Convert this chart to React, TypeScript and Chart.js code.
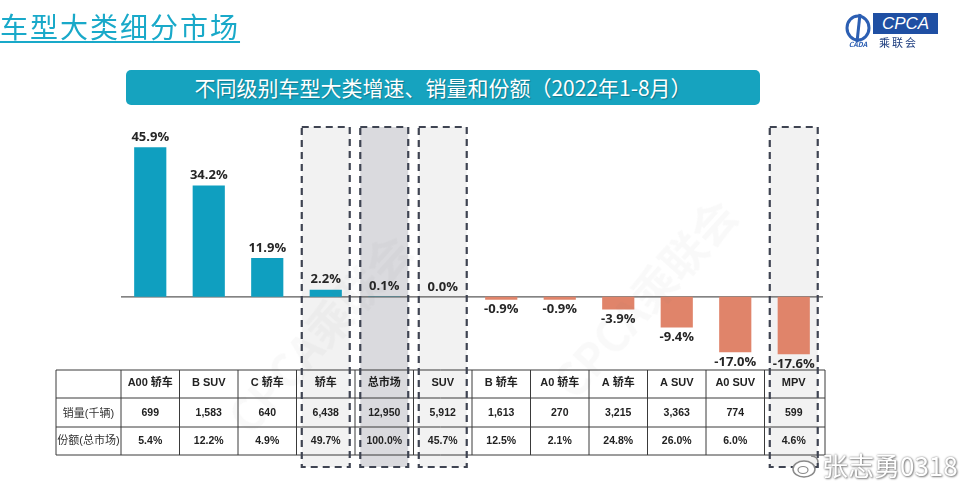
import React, { useRef, useEffect } from 'react';
import { Chart, registerables, Plugin } from 'chart.js';

Chart.register(...registerables);

// growth by segment, Jan-Aug 2022
const categories = ['A00 轿车', 'B SUV', 'C 轿车', '轿车', '总市场', 'SUV', 'B 轿车', 'A0 轿车', 'A 轿车', 'A SUV', 'A0 SUV', 'MPV'];
const growth = [45.9, 34.2, 11.9, 2.2, 0.1, 0.0, -0.9, -0.9, -3.9, -9.4, -17.0, -17.6];
const sales = [699, 1583, 640, 6438, 12950, 5912, 1613, 270, 3215, 3363, 774, 599];
const share = [5.4, 12.2, 4.9, 49.7, 100.0, 45.7, 12.5, 2.1, 24.8, 26.0, 6.0, 4.6];
const rowLabels = ['销量(千辆)', '份额(总市场)'];
const highlighted = [3, 4, 5, 11];
const totalIndex = 4;

const POS = '#0f9fc0';
const NEG = '#e0846a';
const FONT = '"Liberation Sans", "Noto Sans CJK SC", sans-serif';
const rowHeights = [28, 29, 28];

const tableGeom = (chart: Chart) => {
  const { chartArea } = chart;
  const top = chartArea.bottom + 8;
  const left = chartArea.left - 65;
  const ys = [top];
  rowHeights.forEach(h => ys.push(ys[ys.length - 1] + h));
  return { top, left, ys, bottom: ys[ys.length - 1] };
};

const tablePlugin: Plugin<'bar'> = {
  id: 'growthTable',
  beforeDatasetsDraw(chart) {
    const { ctx, chartArea, scales } = chart;
    const x = scales.x;
    const y = scales.y;
    const step = (chartArea.right - chartArea.left) / categories.length;
    const { bottom } = tableGeom(chart);
    const boxTop = chartArea.top - 7;
    const boxBottom = bottom + 12;
    ctx.save();
    highlighted.forEach(i => {
      const cx = x.getPixelForValue(i);
      ctx.fillStyle = i === totalIndex ? '#dadade' : '#f2f2f2';
      ctx.fillRect(cx - step * 0.41, boxTop, step * 0.82, boxBottom - boxTop);
    });
    const y0 = y.getPixelForValue(0);
    ctx.strokeStyle = '#5a5a5a';
    ctx.lineWidth = 1.2;
    ctx.beginPath();
    ctx.moveTo(chartArea.left, y0);
    ctx.lineTo(chartArea.right, y0);
    ctx.stroke();
    ctx.restore();
  },
  afterDatasetsDraw(chart) {
    const { ctx, chartArea, scales } = chart;
    const x = scales.x;
    const step = (chartArea.right - chartArea.left) / categories.length;
    const { left, ys, bottom } = tableGeom(chart);
    const right = chartArea.right + 2;
    ctx.save();

    // table grid
    ctx.strokeStyle = '#3a3a3a';
    ctx.lineWidth = 1;
    ys.forEach(yy => {
      ctx.beginPath();
      ctx.moveTo(left, yy);
      ctx.lineTo(right, yy);
      ctx.stroke();
    });
    const cols = [left, chartArea.left];
    for (let i = 1; i < categories.length; i++) cols.push(chartArea.left + step * i);
    cols.push(right);
    cols.forEach(xx => {
      ctx.beginPath();
      ctx.moveTo(xx, ys[0]);
      ctx.lineTo(xx, bottom);
      ctx.stroke();
    });

    // table text
    ctx.textAlign = 'center';
    ctx.textBaseline = 'middle';
    ctx.fillStyle = '#222';
    const mid = (r: number) => (ys[r] + ys[r + 1]) / 2;
    categories.forEach((c, i) => {
      const cx = x.getPixelForValue(i);
      ctx.font = `bold 11px ${FONT}`;
      ctx.fillText(c, cx, mid(0) - 1);
      ctx.font = `bold 10.5px ${FONT}`;
      ctx.fillText(sales[i].toLocaleString('en-US'), cx, mid(1) + 1);
      ctx.fillText(share[i].toFixed(1) + '%', cx, mid(2));
    });
    ctx.font = `11px ${FONT}`;
    ctx.fillStyle = '#333';
    const lx = (left + chartArea.left) / 2;
    ctx.fillText(rowLabels[0], lx, mid(1) + 1);
    ctx.fillText(rowLabels[1], lx, mid(2));

    // dashed highlight boxes
    const boxTop = chartArea.top - 7;
    const boxBottom = bottom + 12;
    ctx.setLineDash([7, 5]);
    ctx.lineWidth = 2.2;
    ctx.strokeStyle = '#3f4452';
    highlighted.forEach(i => {
      const cx = x.getPixelForValue(i);
      ctx.strokeRect(cx - step * 0.41, boxTop, step * 0.82, boxBottom - boxTop);
    });
    ctx.setLineDash([]);

    // value labels
    ctx.font = 'bold 13px "Open Sans", sans-serif';
    ctx.fillStyle = '#262626';
    const meta = chart.getDatasetMeta(0);
    meta.data.forEach((bar, i) => {
      const v = growth[i];
      const label = v.toFixed(1) + '%';
      if (v >= 0) ctx.fillText(label, bar.x, bar.y - 10);
      else ctx.fillText(label, bar.x, bar.y + 10);
    });
    ctx.restore();
  },
};

const GrowthChart: React.FC = () => {
  const chartRef = useRef<HTMLCanvasElement>(null);
  const chartInstance = useRef<Chart | null>(null);

  useEffect(() => {
    if (!chartRef.current) return;
    if (chartInstance.current) chartInstance.current.destroy();
    const ctx = chartRef.current.getContext('2d');
    if (!ctx) return;

    chartInstance.current = new Chart(ctx, {
      type: 'bar',
      data: {
        labels: categories,
        datasets: [
          {
            label: '增速',
            data: growth,
            backgroundColor: growth.map(v => (v >= 0 ? POS : NEG)),
            barPercentage: 0.55,
            categoryPercentage: 1,
          },
        ],
      },
      options: {
        responsive: true,
        maintainAspectRatio: false,
        animation: false,
        layout: { padding: { left: 121, right: 148, top: 134, bottom: 129 } },
        plugins: {
          legend: { display: false },
          tooltip: { enabled: false },
        },
        scales: {
          x: { display: false },
          y: { display: false, min: -20, max: 50 },
        },
      },
      plugins: [tablePlugin],
    });

    return () => {
      if (chartInstance.current) {
        chartInstance.current.destroy();
        chartInstance.current = null;
      }
    };
  }, []);

  return (
    <div style={{ position: 'absolute', left: 0, top: 0, width: 971, height: 491 }}>
      <canvas ref={chartRef} />
    </div>
  );
};

const Watermark: React.FC<{ left: number; top: number }> = ({ left, top }) => (
  <div
    style={{
      position: 'absolute',
      left,
      top,
      transform: 'rotate(-48deg)',
      fontFamily: '"Noto Sans CJK SC", sans-serif',
      fontWeight: 700,
      fontSize: 44,
      color: 'rgba(110,110,110,0.04)',
      whiteSpace: 'nowrap',
      pointerEvents: 'none',
    }}
  >
    CPCA乘联会
  </div>
);

export default function App() {
  return (
    <div
      style={{
        position: 'fixed',
        left: 0,
        top: 0,
        width: 971,
        height: 491,
        background: '#fff',
        overflow: 'hidden',
        fontFamily: '"Noto Sans CJK SC", sans-serif',
      }}
    >
      <GrowthChart />
      <div
        style={{
          position: 'absolute',
          left: 0,
          top: 8,
          fontSize: 28,
          lineHeight: '36px',
          color: '#19a9c9',
          textDecoration: 'underline',
          textUnderlineOffset: 3,
          letterSpacing: 2,
        }}
      >
        车型大类细分市场
      </div>
      <div style={{ position: 'absolute', left: 843, top: 12, width: 30, height: 36 }}>
        <svg width="30" height="36" viewBox="0 0 30 36">
          <ellipse cx="15" cy="16" rx="11" ry="12" fill="none" stroke="#2c5fb3" strokeWidth="3" />
          <path d="M17 2 L14 30" stroke="#2c5fb3" strokeWidth="3" />
          <text x="15" y="35" fontSize="7" fontStyle="italic" fontWeight="bold" fill="#2c5fb3" textAnchor="middle">CADA</text>
        </svg>
      </div>
      <div
        style={{
          position: 'absolute',
          left: 873,
          top: 13,
          width: 65,
          height: 21,
          background: '#1f4fa3',
          color: '#fff',
          fontFamily: '"Liberation Sans", sans-serif',
          fontStyle: 'italic',
          fontSize: 17,
          lineHeight: '21px',
          textAlign: 'center',
        }}
      >
        CPCA
      </div>
      <div style={{ position: 'absolute', left: 879, top: 34, fontSize: 11, color: '#1f3f80', letterSpacing: 2 }}>
        乘联会
      </div>
      <div
        style={{
          position: 'absolute',
          left: 126,
          top: 70,
          width: 634,
          height: 35,
          background: '#16a3bf',
          borderRadius: 5,
          color: '#fff',
          fontSize: 21,
          lineHeight: '35px',
          textAlign: 'center',
          textShadow: '1px 1px 1px rgba(0,0,0,0.25)',
        }}
      >
        不同级别车型大类增速、销量和份额（2022年1-8月）
      </div>
      <Watermark left={195} top={300} />
      <Watermark left={520} top={265} />
      <div style={{ position: 'absolute', left: 791, top: 452 }}>
        <svg width="30" height="28" viewBox="0 0 30 28">
          <ellipse cx="13" cy="17" rx="11" ry="8" fill="#fff" stroke="#8a8a8a" strokeWidth="1.5" />
          <ellipse cx="12" cy="18" rx="5" ry="3.5" fill="none" stroke="#8a8a8a" strokeWidth="1.2" />
          <path d="M20 4 Q27 4 27 11" fill="none" stroke="#8a8a8a" strokeWidth="1.5" />
        </svg>
      </div>
      <div
        style={{
          position: 'absolute',
          left: 822,
          top: 448,
          fontSize: 26,
          lineHeight: '34px',
          color: '#fff',
          textShadow: '0 0 2px #777, 1px 1px 2px #888',
          whiteSpace: 'nowrap',
        }}
      >
        张志勇0318
      </div>
    </div>
  );
}
